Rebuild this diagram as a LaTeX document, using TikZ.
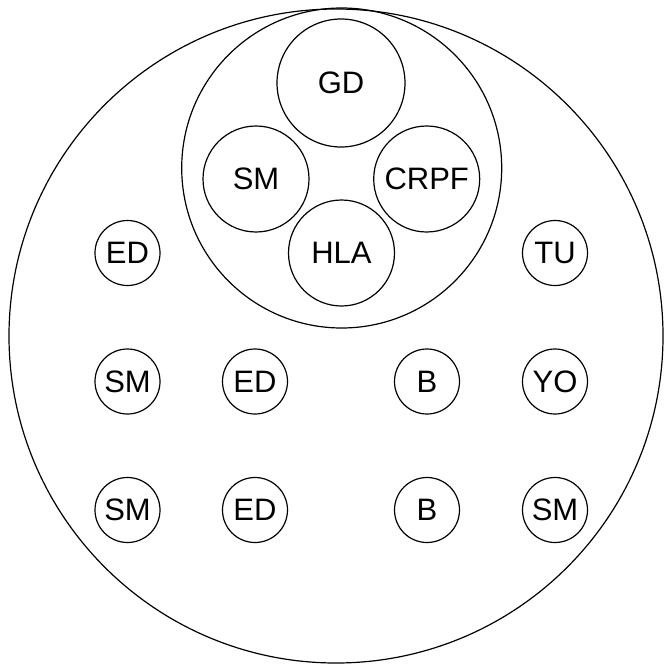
\documentclass[tikz,border=0pt]{standalone}
\usepackage{fontspec}
\setmainfont{Liberation Sans}
\begin{document}
\begin{tikzpicture}[x=1pt,y=-1pt,line width=1.2pt,
  bigc/.style={circle,draw,inner sep=0pt,minimum size=#1,font=\fontsize{31}{36}\selectfont},
  smallc/.style={circle,draw,inner sep=0pt,minimum size=65pt,font=\fontsize{31}{36}\selectfont}]
\useasboundingbox (0,0) rectangle (664,669);
\node[bigc=654pt] (outer) at (336,336) {};
\node[bigc=320pt] (inner) at (341.7,168) {};
\node[bigc=128pt] (gd) at (341,83) {GD};
\node[bigc=106pt] (sm1) at (256,179) {SM};
\node[bigc=106pt] (crpf) at (426.7,179) {CRPF};
\node[bigc=106pt] (hla) at (341.5,253) {HLA};
\node[smallc] (ed1) at (127.5,253) {ED};
\node[smallc] (tu) at (555,253) {TU};
\node[smallc] (sm2) at (127.5,381.5) {SM};
\node[smallc] (ed2) at (255,381.5) {ED};
\node[smallc] (b1) at (427,381.5) {B};
\node[smallc] (yo) at (555,381.5) {YO};
\node[smallc] (sm3) at (127.5,510) {SM};
\node[smallc] (ed3) at (255,510) {ED};
\node[smallc] (b2) at (427,510) {B};
\node[smallc] (sm4) at (555,510) {SM};
\end{tikzpicture}
\end{document}
